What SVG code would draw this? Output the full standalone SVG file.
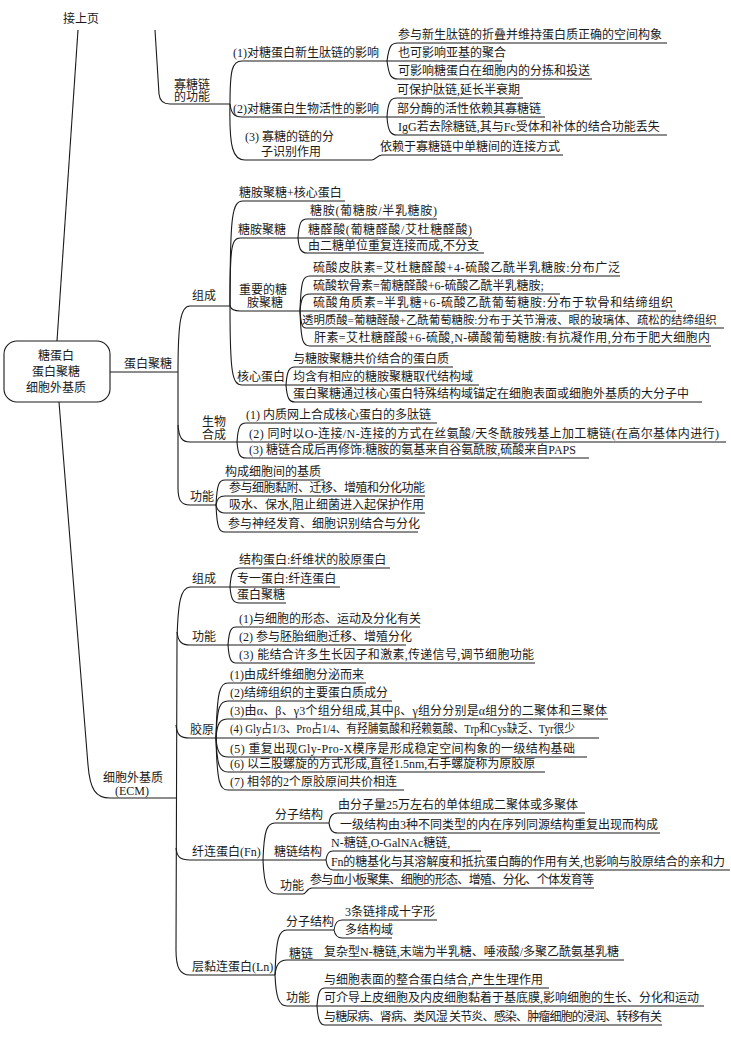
<svg xmlns="http://www.w3.org/2000/svg" width="731" height="1045" viewBox="0 0 731 1045">
<style>
.t{font-family:"Liberation Serif","Noto Sans CJK SC",serif;font-size:12px;fill:#1a1a1a}
.c{text-anchor:middle}
.l{fill:none;stroke:#1a1a1a;stroke-width:1.1}
</style>
<rect width="731" height="1045" fill="#fff"/>
<g id="connectors" class="l">
<path d="M78,30 L57,341"/>
<path d="M155,30 L159,94 Q160,104 170,104 L230,104"/>
<path d="M230,104 C230,70 232,61 242,61 L502,61"/>
<path d="M387,61 C389,46 391,43 398,43 L667,43"/>
<path d="M387,61 C389,76 391,79 398,79 L592,79"/>
<path d="M230,104 C231,113 234,117 242,117 L545,117"/>
<path d="M387,117 C388,101 391,98 397,98 L523,98"/>
<path d="M387,117 C388,132 391,135 397,135 L667,135"/>
<path d="M230,104 C229,148 233,160 245,160 L372,160 C376,160 377,155 382,155 L563,155"/>
<path d="M110,372 L178,372"/>
<path d="M190,306 C181,306 178,320 178,372 L178,488 C178,500 181,505 190,505 L216,505"/>
<path d="M190,306 L230,306"/>
<path d="M178,425 C179,438 182,442 190,442 L726,442"/>
<path d="M237,442 C238,427 240,423 246,423 L437,423"/>
<path d="M237,442 C238,455 240,458 246,458 L589,458"/>
<path d="M230,306 C230,215 232,201 243,201 L345,201"/>
<path d="M230,306 C230,250 231,238 240,238 L472,238"/>
<path d="M298,238 C299,223 301,219 307,219 L437,219"/>
<path d="M298,238 C299,249 301,253 307,253 L484,253"/>
<path d="M230,306 C231,309 233,311 240,311 L676,311"/>
<path d="M300,311 C301,280 303,276 310,276 L620,276"/>
<path d="M300,311 C301,298 303,294 310,294 L560,294"/>
<path d="M300,311 C301,324 302,328 306,328 L724,328"/>
<path d="M300,311 C301,342 303,346 310,346 L711,346"/>
<path d="M230,306 C230,372 232,385 242,385 L479,385"/>
<path d="M286,385 C287,371 289,367 295,367 L453,367"/>
<path d="M286,385 C287,398 289,402 295,402 L702,402"/>
<path d="M216,505 C217,484 219,480 225,480 L324,480"/>
<path d="M216,505 C217,499 219,496 225,496 L425,496"/>
<path d="M216,505 C217,510 219,513 225,513 L425,513"/>
<path d="M216,505 C217,528 219,532 225,532 L418,532"/>
<path d="M59,402 L88,765 C90,790 96,798 110,798 L176,798"/>
<path d="M190,587 C181,588 178,600 177,640 L176,950 C176,968 180,975 190,975 L275,975"/>
<path d="M190,587 L340,587"/>
<path d="M177,632 C178,642 182,645 190,645 L406,645"/>
<path d="M176,725 C177,735 180,738 190,738 L599,738"/>
<path d="M176,848 C177,857 180,860 190,860 L326,860"/>
<path d="M230,587 C231,572 233,568 240,568 L390,568"/>
<path d="M230,587 C231,599 233,603 240,603 L286,603"/>
<path d="M228,645 C229,631 231,627 236,627 L420,627"/>
<path d="M228,645 C229,659 231,663 236,663 L535,663"/>
<path d="M216,738 C217,690 220,683 228,683 L366,683"/>
<path d="M216,738 C217,706 220,701 228,701 L392,701"/>
<path d="M216,738 C217,723 220,719 228,719 L608,719"/>
<path d="M216,738 C217,752 220,757 228,757 L587,757"/>
<path d="M216,738 C217,767 220,772 228,772 L545,772"/>
<path d="M216,738 C217,784 220,790 228,790 L404,790"/>
<path d="M263,860 C264,830 267,823 275,823 L329,823"/>
<path d="M329,823 C330,816 332,813 338,813 L585,813"/>
<path d="M329,823 C330,830 332,833 338,833 L660,833"/>
<path d="M326,860 C327,853 329,851 333,851 L481,851"/>
<path d="M326,860 C327,867 329,870 333,870 L730,870"/>
<path d="M263,860 C264,887 268,894 278,894 L303,894 C306,894 307,888 312,888 L594,888"/>
<path d="M275,975 C276,938 279,930 287,930 L334,930"/>
<path d="M334,930 C335,923 337,920 342,920 L437,920"/>
<path d="M334,930 C335,935 337,938 342,938 L392,938"/>
<path d="M275,975 C276,965 279,960 287,960 L624,960"/>
<path d="M275,975 C276,998 279,1006 287,1006 L704,1006"/>
<path d="M317,1006 C318,992 320,988 325,988 L549,988"/>
<path d="M317,1006 C318,1020 320,1025 325,1025 L662,1025"/>
</g>
<g id="n-prev"><text class="t" x="63" y="23">接上页</text></g>
<g id="n-oligo"><text class="t" x="174" y="89">寡糖链</text><text class="t" x="174" y="101">的功能</text></g>
<g id="n-o1"><text class="t" x="233" y="57">(1)对糖蛋白新生肽链的影响</text></g>
<g id="n-o1a"><text class="t" x="398" y="39">参与新生肽链的折叠并维持蛋白质正确的空间构象</text></g>
<g id="n-o1b"><text class="t" x="398" y="57">也可影响亚基的聚合</text></g>
<g id="n-o1c"><text class="t" x="398" y="75">可影响糖蛋白在细胞内的分拣和投送</text></g>
<g id="n-o2"><text class="t" x="233" y="113">(2)对糖蛋白生物活性的影响</text></g>
<g id="n-o2a"><text class="t" x="397" y="94">可保护肽链,延长半衰期</text></g>
<g id="n-o2b"><text class="t" x="397" y="113">部分酶的活性依赖其寡糖链</text></g>
<g id="n-o2c"><text class="t" x="398" y="131">IgG若去除糖链,其与Fc受体和补体的结合功能丢失</text></g>
<g id="n-o3"><text class="t" x="245" y="141">(3) 寡糖的链的分</text><text class="t" x="261" y="156">子识别作用</text></g>
<g id="n-o3a"><text class="t" x="380" y="151">依赖于寡糖链中单糖间的连接方式</text></g>
<g id="n-root"><rect x="4" y="341" width="106" height="61" rx="13" fill="none" stroke="#1a1a1a" stroke-width="1.1"/><text class="t c" x="56" y="360">糖蛋白</text><text class="t c" x="56" y="376">蛋白聚糖</text><text class="t c" x="56" y="392">细胞外基质</text></g>
<g id="n-pg"><text class="t" x="124" y="368">蛋白聚糖</text></g>
<g id="n-pg-comp"><text class="t" x="192" y="300">组成</text></g>
<g id="n-pg-c1"><text class="t" x="239" y="197">糖胺聚糖+核心蛋白</text></g>
<g id="n-pg-gag"><text class="t" x="238" y="234">糖胺聚糖</text></g>
<g id="n-pg-gag1"><text class="t" x="310" y="215" textLength="127">糖胺(葡糖胺/半乳糖胺)</text></g>
<g id="n-pg-gag2"><text class="t" x="308" y="234" textLength="164">糖醛酸(葡糖醛酸/艾杜糖醛酸)</text></g>
<g id="n-pg-gag3"><text class="t" x="308" y="250">由二糖单位重复连接而成,不分支</text></g>
<g id="n-pg-imp"><text class="t" x="239" y="294">重要的糖</text><text class="t" x="247" y="307">胺聚糖</text></g>
<g id="n-pg-imp1"><text class="t" x="313" y="272" textLength="307">硫酸皮肤素=艾杜糖醛酸+4-硫酸乙酰半乳糖胺:分布广泛</text></g>
<g id="n-pg-imp2"><text class="t" x="313" y="290">硫酸软骨素=葡糖醛酸+6-硫酸乙酰半乳糖胺;</text></g>
<g id="n-pg-imp3"><text class="t" x="313" y="307" textLength="360">硫酸角质素=半乳糖+6-硫酸乙酰葡萄糖胺:分布于软骨和结缔组织</text></g>
<g id="n-pg-imp4"><text class="t" x="302" y="324" style="font-size:11.4px">透明质酸=葡糖醛酸+乙酰葡萄糖胺:分布于关节滑液、眼的玻璃体、疏松的结缔组织</text></g>
<g id="n-pg-imp5"><text class="t" x="314" y="342" textLength="396">肝素=艾杜糖醛酸+6-硫酸,N-磺酸葡萄糖胺:有抗凝作用,分布于肥大细胞内</text></g>
<g id="n-pg-core"><text class="t" x="237" y="381">核心蛋白</text></g>
<g id="n-pg-core1"><text class="t" x="293" y="363">与糖胺聚糖共价结合的蛋白质</text></g>
<g id="n-pg-core2"><text class="t" x="293" y="381">均含有相应的糖胺聚糖取代结构域</text></g>
<g id="n-pg-core3"><text class="t" x="293" y="398">蛋白聚糖通过核心蛋白特殊结构域锚定在细胞表面或细胞外基质的大分子中</text></g>
<g id="n-pg-syn"><text class="t" x="202" y="426">生物</text><text class="t" x="202" y="439">合成</text></g>
<g id="n-pg-syn1"><text class="t" x="246" y="419">(1) 内质网上合成核心蛋白的多肽链</text></g>
<g id="n-pg-syn2"><text class="t" x="249" y="438" textLength="470">(2) 同时以O-连接/N-连接的方式在丝氨酸/天冬酰胺残基上加工糖链(在高尔基体内进行)</text></g>
<g id="n-pg-syn3"><text class="t" x="249" y="454">(3) 糖链合成后再修饰:糖胺的氨基来自谷氨酰胺,硫酸来自PAPS</text></g>
<g id="n-pg-fn"><text class="t" x="190" y="501">功能</text></g>
<g id="n-pg-fn1"><text class="t" x="225" y="476">构成细胞间的基质</text></g>
<g id="n-pg-fn2"><text class="t" x="229" y="492" textLength="196">参与细胞黏附、迁移、增殖和分化功能</text></g>
<g id="n-pg-fn3"><text class="t" x="229" y="509">吸水、保水,阻止细菌进入起保护作用</text></g>
<g id="n-pg-fn4"><text class="t" x="228" y="528">参与神经发育、细胞识别结合与分化</text></g>
<g id="n-ecm"><text class="t" x="103" y="782">细胞外基质</text><text class="t" x="115" y="795">(ECM)</text></g>
<g id="n-ecm-comp"><text class="t" x="192" y="583">组成</text></g>
<g id="n-ecm-c1"><text class="t" x="239" y="564">结构蛋白:纤维状的胶原蛋白</text></g>
<g id="n-ecm-c2"><text class="t" x="237" y="583">专一蛋白:纤连蛋白</text></g>
<g id="n-ecm-c3"><text class="t" x="237" y="599">蛋白聚糖</text></g>
<g id="n-ecm-fn"><text class="t" x="192" y="641">功能</text></g>
<g id="n-ecm-f1"><text class="t" x="239" y="623">(1)与细胞的形态、运动及分化有关</text></g>
<g id="n-ecm-f2"><text class="t" x="239" y="641">(2) 参与胚胎细胞迁移、增殖分化</text></g>
<g id="n-ecm-f3"><text class="t" x="239" y="659" textLength="295">(3) 能结合许多生长因子和激素,传递信号,调节细胞功能</text></g>
<g id="n-col"><text class="t" x="190" y="734">胶原</text></g>
<g id="n-col1"><text class="t" x="230" y="679">(1)由成纤维细胞分泌而来</text></g>
<g id="n-col2"><text class="t" x="230" y="697">(2)结缔组织的主要蛋白质成分</text></g>
<g id="n-col3"><text class="t" x="230" y="715" textLength="377">(3)由α、β、γ3个组分组成,其中β、γ组分分别是α组分的二聚体和三聚体</text></g>
<g id="n-col4"><text class="t" x="230" y="733" textLength="345" lengthAdjust="spacingAndGlyphs">(4) Gly占1/3、Pro占1/4、有羟脯氨酸和羟赖氨酸、Trp和Cys缺乏、Tyr很少</text></g>
<g id="n-col5"><text class="t" x="230" y="753" textLength="345">(5) 重复出现Gly-Pro-X模序是形成稳定空间构象的一级结构基础</text></g>
<g id="n-col6"><text class="t" x="230" y="768">(6) 以三股螺旋的方式形成,直径1.5nm,右手螺旋称为原胶原</text></g>
<g id="n-col7"><text class="t" x="230" y="786">(7) 相邻的2个原胶原间共价相连</text></g>
<g id="n-fnc"><text class="t" x="192" y="856">纤连蛋白(Fn)</text></g>
<g id="n-fnc-ms"><text class="t" x="275" y="819">分子结构</text></g>
<g id="n-fnc-ms1"><text class="t" x="338" y="809">由分子量25万左右的单体组成二聚体或多聚体</text></g>
<g id="n-fnc-ms2"><text class="t" x="340" y="829">一级结构由3种不同类型的内在序列同源结构重复出现而构成</text></g>
<g id="n-fnc-sc"><text class="t" x="274" y="856">糖链结构</text></g>
<g id="n-fnc-sc1"><text class="t" x="331" y="847">N-糖链,O-GalNAc糖链,</text></g>
<g id="n-fnc-sc2"><text class="t" x="331" y="866" textLength="394">Fn的糖基化与其溶解度和抵抗蛋白酶的作用有关,也影响与胶原结合的亲和力</text></g>
<g id="n-fnc-fn"><text class="t" x="280" y="890">功能</text></g>
<g id="n-fnc-fn1"><text class="t" x="310" y="884" textLength="284">参与血小板聚集、细胞的形态、增殖、分化、个体发育等</text></g>
<g id="n-ln"><text class="t" x="192" y="971">层黏连蛋白(Ln)</text></g>
<g id="n-ln-ms"><text class="t" x="286" y="926">分子结构</text></g>
<g id="n-ln-ms1"><text class="t" x="345" y="916">3条链排成十字形</text></g>
<g id="n-ln-ms2"><text class="t" x="345" y="934">多结构域</text></g>
<g id="n-ln-sc"><text class="t" x="289" y="958">糖链</text></g>
<g id="n-ln-sc1"><text class="t" x="324" y="956">复杂型N-糖链,末端为半乳糖、唾液酸/多聚乙酰氨基乳糖</text></g>
<g id="n-ln-fn"><text class="t" x="286" y="1002">功能</text></g>
<g id="n-ln-fn1"><text class="t" x="324" y="984">与细胞表面的整合蛋白结合,产生生理作用</text></g>
<g id="n-ln-fn2"><text class="t" x="324" y="1002">可介导上皮细胞及内皮细胞黏着于基底膜,影响细胞的生长、分化和运动</text></g>
<g id="n-ln-fn3"><text class="t" x="324" y="1021" textLength="338">与糖尿病、肾病、类风湿 关节炎、感染、肿瘤细胞的浸润、转移有关</text></g>
</svg>
